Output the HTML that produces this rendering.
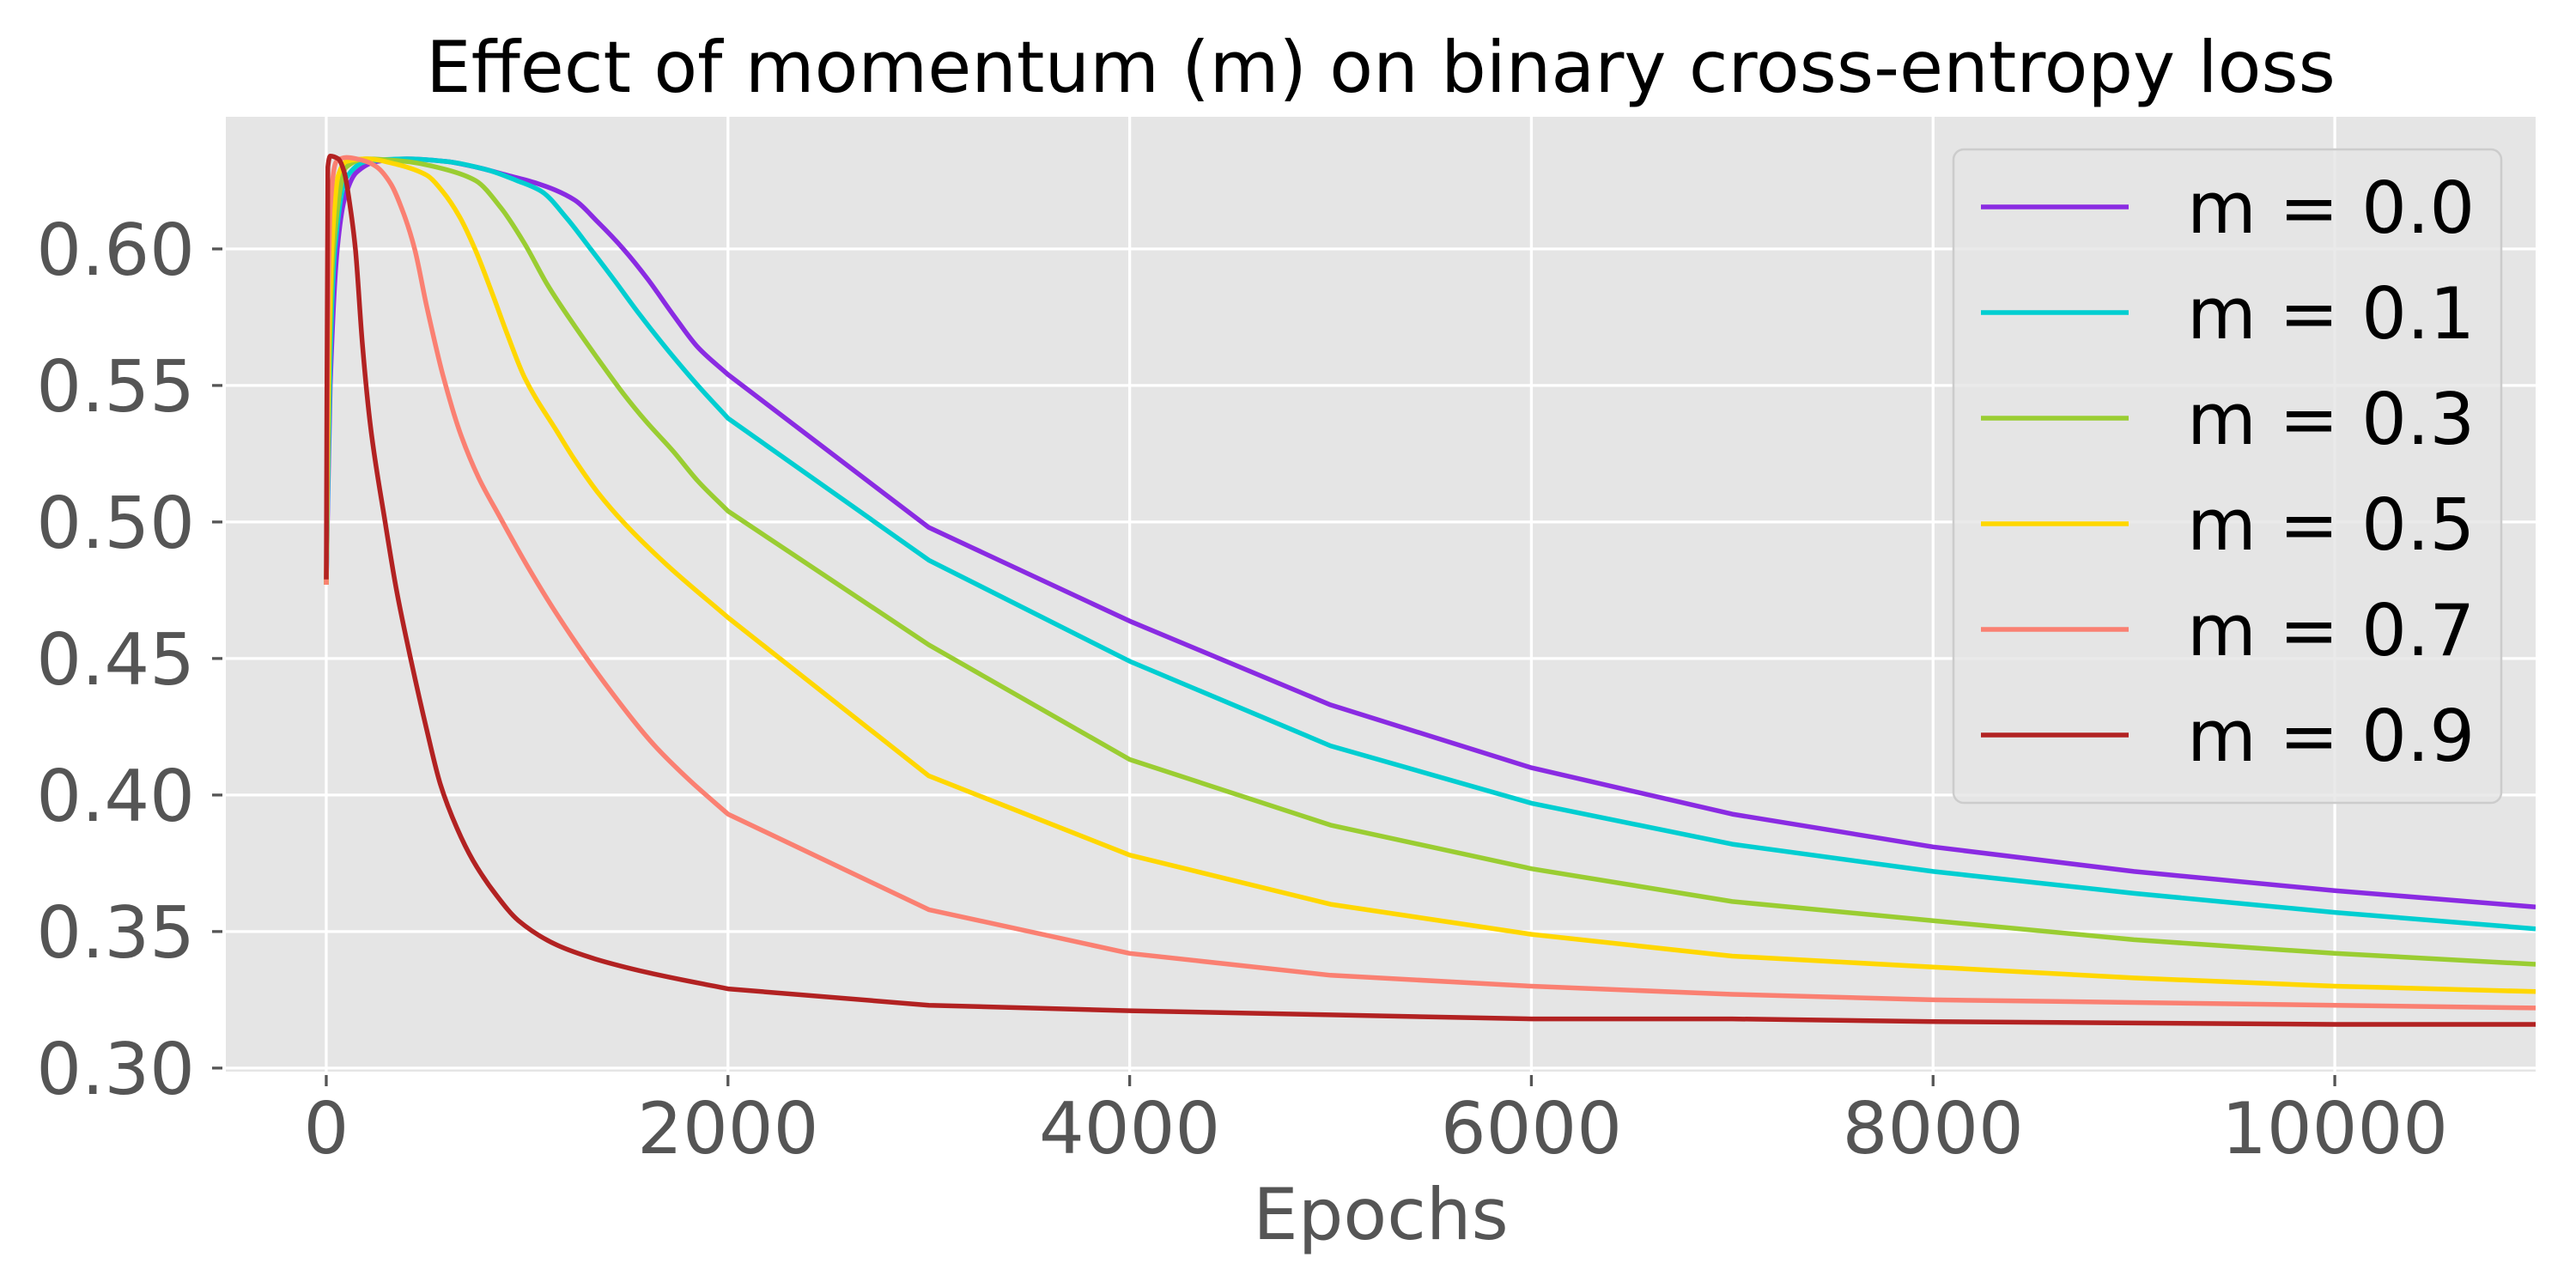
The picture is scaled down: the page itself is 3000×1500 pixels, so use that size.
<!DOCTYPE html>
<html><head><meta charset="utf-8"><style>
html,body{margin:0;padding:0;background:#fff;width:3000px;height:1500px;overflow:hidden}
svg{display:block}
text{font-family:"DejaVu Sans","Liberation Sans",sans-serif}
</style></head><body>
<svg id="chart" width="3000" height="1500" viewBox="0 0 3000 1500" xmlns="http://www.w3.org/2000/svg">
<rect x="263" y="136" width="2690" height="1112" fill="#E5E5E5"/>
<g id="grid"></g>
<g id="series"></g>
<g id="axes"></g>
<text x="1608" y="107" font-size="83" text-anchor="middle" fill="#000">Effect of momentum (m) on binary cross-entropy loss</text>
<text x="1608" y="1443" font-size="83" text-anchor="middle" fill="#555">Epochs</text>
<g id="legend"></g>
</svg>
<script>
const labels = ["m = 0.0","m = 0.1","m = 0.3","m = 0.5","m = 0.7","m = 0.9"];
const colors = ["#8A2BE2","#00CED1","#9ACD32","#FFD700","#FA8072","#B22222"];
const xTicks = [0,2000,4000,6000,8000,10000];
const yTicks = [0.30,0.35,0.40,0.45,0.50,0.55,0.60];
const yTickLabels = ["0.30","0.35","0.40","0.45","0.50","0.55","0.60"];
const lateEpochs = [3000,4000,5000,6000,7000,8000,9000,10000,11000];

const epochs0 = [0,20,55,90,150,250,400,600,744,900,1050,1235,1350,1479,1600,1726,1850,2000];
const loss0   = [0.477,0.55,0.600,0.618,0.628,0.632,0.633,0.632,0.630,0.627,0.624,0.618,0.610,0.600,0.589,0.576,0.564,0.554];
const late0   = [0.498,0.4637,0.433,0.410,0.393,0.381,0.372,0.365,0.359];

const epochs1 = [0,20,43,100,200,400,600,800,950,1073,1200,1316,1440,1560,1700,1850,2000];
const loss1   = [0.477,0.56,0.600,0.626,0.632,0.633,0.632,0.629,0.625,0.621,0.611,0.600,0.588,0.576,0.563,0.550,0.538];
const late1   = [0.486,0.449,0.418,0.397,0.382,0.372,0.364,0.357,0.351];

const epochs3 = [0,15,36,100,200,400,600,744,870,987,1100,1235,1350,1479,1590,1726,1850,2000];
const loss3   = [0.477,0.56,0.600,0.630,0.633,0.632,0.629,0.625,0.615,0.602,0.587,0.572,0.560,0.547,0.537,0.526,0.515,0.504];
const late3   = [0.455,0.413,0.389,0.373,0.361,0.354,0.347,0.342,0.338];

const epochs5 = [0,12,28,60,100,200,350,500,580,662,740,825,900,987,1150,1235,1350,1491,1700,2000];
const loss5   = [0.477,0.56,0.600,0.627,0.632,0.633,0.631,0.627,0.621,0.612,0.600,0.584,0.569,0.553,0.533,0.523,0.511,0.499,0.484,0.465];
const late5   = [0.407,0.378,0.360,0.349,0.341,0.337,0.333,0.330,0.328];

const epochs7 = [0,8,20,50,100,200,252,320,385,440,500,580,665,760,863,1000,1150,1376,1624,1800,2000];
const loss7   = [0.477,0.57,0.615,0.632,0.6335,0.632,0.630,0.624,0.613,0.600,0.579,0.554,0.533,0.516,0.502,0.484,0.466,0.442,0.419,0.406,0.393];
const late7   = [0.358,0.342,0.334,0.330,0.327,0.325,0.324,0.323,0.322];

const epochs9 = [0,8,20,60,90,120,145,180,222,291,350,423,500,568,650,731,850,957,1150,1338,1600,2000];
const loss9   = [0.479,0.630,0.634,0.633,0.628,0.615,0.600,0.565,0.534,0.501,0.475,0.449,0.424,0.404,0.388,0.376,0.363,0.354,0.345,0.340,0.335,0.329];
const late9   = [0.323,0.321,0.3195,0.318,0.318,0.317,0.3165,0.316,0.316];

const earlyEpochs = [epochs0,epochs1,epochs3,epochs5,epochs7,epochs9];
const earlyLoss = [loss0,loss1,loss3,loss5,loss7,loss9];
const lateLoss = [late0,late1,late3,late5,late7,late9];

const X0=263, X1=2953, Y0=136, Y1=1248;
const xMin=-500, xMax=11000, yMin=0.2987, yMax=0.6484;
function xs(v){return X0+(v-xMin)/(xMax-xMin)*(X1-X0);}
function ys(v){return Y1-(v-yMin)/(yMax-yMin)*(Y1-Y0);}
const NS="http://www.w3.org/2000/svg";
function mk(tag,attrs,parent){const e=document.createElementNS(NS,tag);for(const k in attrs)e.setAttribute(k,attrs[k]);parent.appendChild(e);return e;}

const grid=document.getElementById('grid'), axes=document.getElementById('axes');
yTicks.forEach((t,i)=>{
  const y=ys(t);
  const g=mk('line',{x1:X0,x2:X1,y1:y,y2:y,stroke:'#fff','stroke-width':3.3},grid);
  
  
  const tk=mk('line',{x1:X0-16,x2:X0-4,y1:y,y2:y,stroke:'#555','stroke-width':3.3},axes);
  
  
  const tx=mk('text',{x:227,y:y+30,'font-size':83,'text-anchor':'end',fill:'#555'},axes);
  tx.textContent=yTickLabels[i];
  
  
});
xTicks.forEach(t=>{
  const x=xs(t);
  const g=mk('line',{x1:x,x2:x,y1:Y0,y2:Y1,stroke:'#fff','stroke-width':3.3},grid);
  
  
  const tk=mk('line',{x1:x,x2:x,y1:Y1+4,y2:Y1+17,stroke:'#555','stroke-width':3.3},axes);
  
  
  const tx=mk('text',{x:x,y:1343,'font-size':83,'text-anchor':'middle',fill:'#555'},axes);
  tx.textContent=String(t);
  
  
});

const defs=mk('defs',{},document.getElementById('chart'));
const cp=mk('clipPath',{id:'clip'},defs);
mk('rect',{x:X0,y:Y0,width:X1-X0,height:Y1-Y0},cp);

// monotone cubic (Fritsch-Carlson) in pixel space -> no overshoot
function monotonePath(P){
  const n=P.length, dl=[], tg=new Array(n);
  for(let k=0;k<n-1;k++) dl.push((P[k+1][1]-P[k][1])/(P[k+1][0]-P[k][0]));
  tg[0]=dl[0]; tg[n-1]=dl[n-2];
  for(let k=1;k<n-1;k++){
    if(dl[k-1]*dl[k]<=0) tg[k]=0;
    else { const h0=P[k][0]-P[k-1][0], h1=P[k+1][0]-P[k][0];
      const w1=2*h1+h0, w2=h1+2*h0;
      tg[k]=(w1+w2)/(w1/dl[k-1]+w2/dl[k]); }
  }
  let d='M'+P[0][0].toFixed(1)+','+P[0][1].toFixed(1);
  for(let k=0;k<n-1;k++){
    const h=(P[k+1][0]-P[k][0])/3;
    d+=' C'+(P[k][0]+h).toFixed(1)+','+(P[k][1]+tg[k]*h).toFixed(1)+' '+(P[k+1][0]-h).toFixed(1)+','+(P[k+1][1]-tg[k+1]*h).toFixed(1)+' '+P[k+1][0].toFixed(1)+','+P[k+1][1].toFixed(1);
  }
  return d;
}

const series=document.getElementById('series');
earlyEpochs.forEach((ep,i)=>{
  const P=ep.map((e,j)=>[xs(e),ys(earlyLoss[i][j])]);
  let d=monotonePath(P);
  lateEpochs.forEach((e,j)=>{d+=' L'+xs(e).toFixed(1)+','+ys(lateLoss[i][j]).toFixed(1);});
  const p=mk('path',{d:d,fill:'none',stroke:colors[i],'stroke-width':5.5,'stroke-linejoin':'round','clip-path':'url(#clip)'},series);
  
  
});

const legend=document.getElementById('legend');
const box=mk('rect',{x:2275,y:174,width:638,height:761,rx:12,fill:'#E5E5E5','fill-opacity':0.8,stroke:'#CCCCCC','stroke-width':2.5},legend);


labels.forEach((l,i)=>{
  const y=241+i*123;
  const g=mk('g',{},legend);
  
  
  mk('line',{x1:2307,x2:2479,y1:y,y2:y,stroke:colors[i],'stroke-width':5.5},g);
  const t=mk('text',{x:2547,y:y+30,'font-size':83,fill:'#000'},g);
  t.textContent=l;
});
</script>
</body></html>
